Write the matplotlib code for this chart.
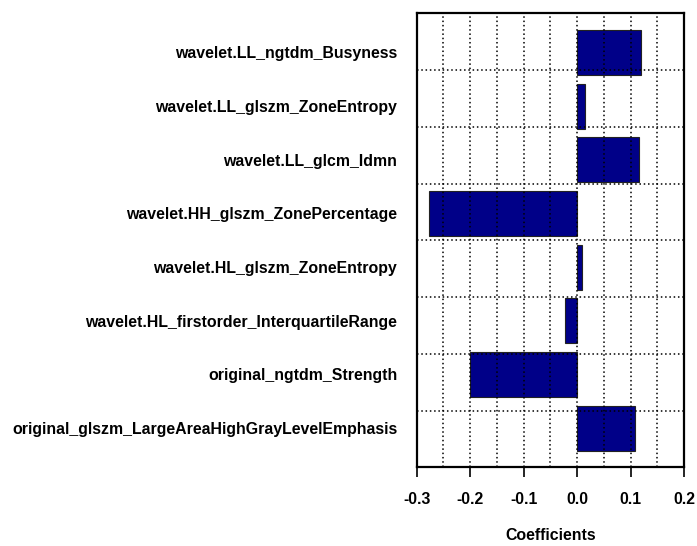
import matplotlib.pyplot as plt
import numpy as np

plt.rcParams['font.family'] = ['Liberation Sans', 'DejaVu Sans']
plt.rcParams['font.weight'] = 'bold'

# Features, bottom to top
features = [
    'original_glszm_LargeAreaHighGrayLevelEmphasis',
    'original_ngtdm_Strength',
    'wavelet.HL_firstorder_InterquartileRange',
    'wavelet.HL_glszm_ZoneEntropy',
    'wavelet.HH_glszm_ZonePercentage',
    'wavelet.LL_glcm_Idmn',
    'wavelet.LL_glszm_ZoneEntropy',
    'wavelet.LL_ngtdm_Busyness',
]
coefficients = [0.109, -0.200, -0.022, 0.0097, -0.276, 0.115, 0.0153, 0.119]
x_ticks = [-0.3, -0.2, -0.1, 0.0, 0.1, 0.2]

# barplot-style layout: width 1, gap 0.2
centers = 0.7 + 1.2 * np.arange(len(features))
lo, hi = 0.2, centers[-1] + 0.5
pad = (hi - lo) * 0.04
ylim = (lo - pad, hi + pad)
xlim = (-0.3, 0.2)

FS = 11.4

fig = plt.figure(figsize=(6.97, 5.46), dpi=100)
ax = fig.add_axes([0.5978, 0.1441, 0.3835, 0.8315])

ax.barh(centers, coefficients, height=1.0, color='#000088',
        edgecolor='#222222', linewidth=0.8, zorder=2)

# dotted grid: 10 cells across, 8 cells down
for gx in np.linspace(xlim[0], xlim[1], 11)[1:-1]:
    ax.axvline(gx, color='black', linestyle=(0, (1, 1.8)), linewidth=1.1, zorder=3)
for gy in np.linspace(ylim[0], ylim[1], 9)[1:-1]:
    ax.axhline(gy, color='black', linestyle=(0, (1, 1.8)), linewidth=1.1, zorder=3)

ax.set_xlim(*xlim)
ax.set_ylim(*ylim)
ax.set_xticks(x_ticks)
ax.set_xticklabels(['%.1f' % t for t in x_ticks], fontsize=FS, fontweight='bold')
ax.tick_params(axis='x', direction='out', length=7, width=1.2, pad=11)
ax.set_yticks(centers)
ax.set_yticklabels(features, fontsize=FS, fontweight='bold')
ax.tick_params(axis='y', length=0, pad=14)
ax.set_xlabel('Coefficients', fontsize=FS, fontweight='bold', labelpad=15)

for s in ax.spines.values():
    s.set_linewidth(1.6)

fig.savefig('out.png', dpi=100)
